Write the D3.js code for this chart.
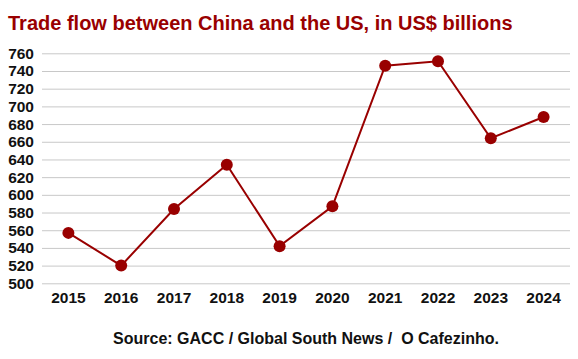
<!DOCTYPE html>
<html><head><meta charset="utf-8">
<script src="https://cdn.jsdelivr.net/npm/d3@7"></script>
<style>body{margin:0;background:#fff}svg{display:block}</style>
</head><body>
<svg id="c" width="578" height="359"></svg>
<script>
const years = ["2015","2016","2017","2018","2019","2020","2021","2022","2023","2024"];
const tradeFlow = [557, 520, 584, 634, 542, 587, 746, 751, 664, 688];
const yTicks = [500,520,540,560,580,600,620,640,660,680,700,720,740,760];
const titleText = "Trade flow between China and the US, in US$ billions";
const sourceText = "Source: GACC / Global South News /  O Cafezinho.";

const svg = d3.select("#c");
const red = "#990000";
const font = "Liberation Sans, Arial, sans-serif";

const x = d3.scaleBand().domain(years).range([42, 570]);
const y = d3.scaleLinear().domain([500, 760]).range([283.3, 53.3]);

svg.append("text").attr("x", 8).attr("y", 30)
  .attr("font-family", font).attr("font-weight", "bold").attr("font-size", 20)
  .attr("fill", red).text(titleText);

const ya = svg.append("g").attr("transform", "translate(42,0)")
  .call(d3.axisLeft(y).tickValues(yTicks).tickSize(-528).tickPadding(8).tickFormat(d3.format("d")));
ya.select(".domain").remove();
ya.selectAll(".tick line").attr("stroke", "#c8c8c8").attr("stroke-width", 1);
ya.selectAll(".tick text").attr("font-family", font).attr("font-weight", "bold")
  .attr("font-size", 15.5).attr("fill", "#111");

const xa = svg.append("g").attr("transform", "translate(0,292)")
  .call(d3.axisBottom(x).tickSize(0).tickPadding(0));
xa.select(".domain").remove();
xa.selectAll(".tick text").attr("font-family", font).attr("font-weight", "bold")
  .attr("font-size", 15.5).attr("fill", "#111").attr("dy", "0.71em");

const pts = years.map((yr, i) => [x(yr) + x.bandwidth() / 2, y(tradeFlow[i])]);
svg.append("path").attr("d", d3.line()(pts)).attr("fill", "none")
  .attr("stroke", red).attr("stroke-width", 2);
svg.selectAll("circle.pt").data(pts).join("circle").attr("class", "pt")
  .attr("cx", d => d[0]).attr("cy", d => d[1]).attr("r", 6).attr("fill", red);

svg.append("text").attr("x", 306).attr("y", 344).attr("text-anchor", "middle")
  .attr("font-family", font).attr("font-weight", "bold").attr("font-size", 16)
  .attr("fill", "#111").style("white-space", "pre").text(sourceText);
</script>
</body></html>
